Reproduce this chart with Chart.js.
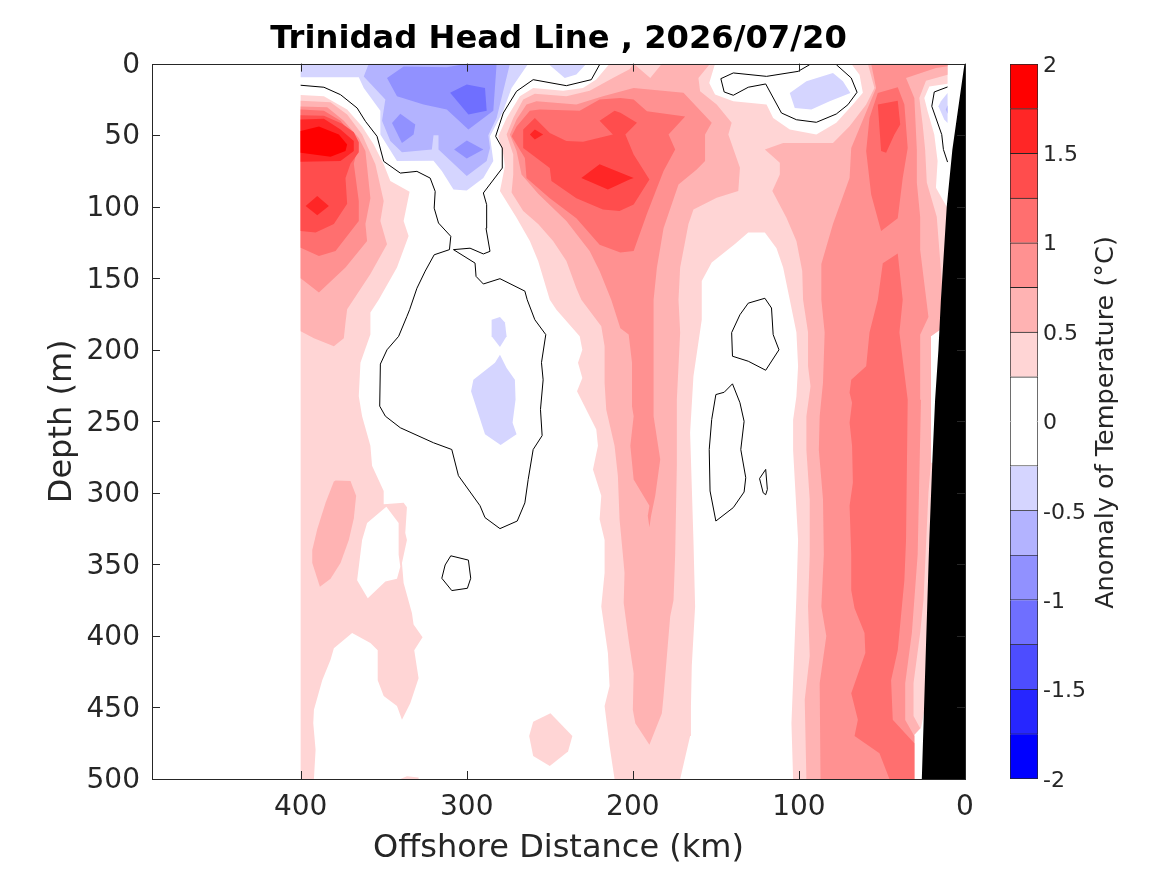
<!DOCTYPE html>
<html><head><meta charset="utf-8">
<style>html,body{margin:0;padding:0;background:#fff;overflow:hidden}canvas{position:absolute;top:0}</style>
<script src="https://cdn.jsdelivr.net/npm/chart.js@4"></script></head><body>
<canvas id="main" width="1000" height="875" style="left:0"></canvas>
<canvas id="bar" width="167" height="875" style="left:1000px"></canvas>
<script>
const titleText='Trinidad Head Line , 2026/07/20';
const barLabel='Anomaly of Temperature (°C)';
const distanceTicks=[400,300,200,100,0];
const bandEdges=[-2,-1.75,-1.5,-1.25,-1,-0.75,-0.5,-0.25,0,0.25,0.5,0.75,1,1.25,1.5,1.75,2];
const bandColors=['#0000ff','#2626ff','#4d4dff','#6f6fff','#9191ff','#b3b3ff','#d5d5ff','#ffffff','#ffffff','#ffd5d5','#ffb3b3','#ff9191','#ff6f6f','#ff4d4d','#ff2626','#ff0000'];
const barTicks=[-2,-1.5,-1,-0.5,0,0.5,1,1.5,2];

// contours as [offshore km, depth m]
const warm025=[
[[400,22],[386,22.8],[372,32],[363,44],[356,56.5],[350,70.4],[346,82],[334.4,89.5],[338,110],[335,120.4],[342,142.5],[353,165],[358,174],[358,189.4],[364,209],[365,232.4],[363,246.4],[358,267],[357,281],[350,298.7],[350,308],[338,307],[336,310],[337,328],[336,333],[339,349],[338,363],[333,384],[332,392],[326.6,401],[331.6,410],[329,429.5],[334,447],[339,458.6],[342,449],[350,442],[353.6,431],[353.6,410],[358,405],[369,398],[380,408.6],[382,416.7],[387,431],[392,451.6],[392.4,461],[391,479.5],[392,500],[400,500]],
[[214,0],[222,11],[230,17],[242,19],[260,17],[268,22.8],[276,38],[281,50.7],[278,63.5],[277,71.6],[280,89],[270,107.7],[262,124],[257,138],[250,165],[246,172],[232,190.6],[230.4,200],[233,209],[230.4,219.7],[233.6,229],[222,255.7],[221,267],[224,283.6],[219,302],[220,318.5],[217,333],[217,356],[219,379.5],[215,412],[214,435],[217,449],[214,477],[211,500],[171.5,500],[165.5,470],[165,449],[164.5,421],[162.5,379.5],[163.5,333],[165.5,258],[163.5,218.5],[158.5,179],[158.5,152],[152.5,139],[138.5,126],[130.5,118],[120.5,118],[113.5,129],[109.5,142.5],[105.5,165],[101.5,188],[100.5,211.5],[101.5,232.4],[103.5,249],[103.5,270],[100.5,333],[101.5,372.5],[104.5,461],[103.5,500],[30.5,500],[30.5,469],[26.5,464.4],[20,426],[15,300],[10,186],[8,100],[11,100],[17.5,86.7],[16.5,68],[18.5,49.5],[22.5,33.2],[24.5,24],[21.5,16],[10.5,14],[10.5,0]],
[[249.6,454],[236.4,470],[239,480.7],[250,491],[260,484],[262.4,470],[260,460]],
[[340,500],[336,498],[329,499],[329,500]]
];
const whiteHoles=[
[[348.4,309.7],[341,321],[341,343],[340,351.6],[342,360],[349,362],[359.6,373.7],[366,361],[363,333],[360,321]],
[[150.5,0],[154,13.5],[150.5,21.6],[139.5,26.3],[119.5,28.6],[115.5,38],[105.5,46],[89.5,49.5],[77.5,41.4],[67.5,28.6],[61.5,20.4],[63.5,7.7],[68.5,0]],
[[15,186],[20.5,190.6],[20.5,279],[15,279]]
];
const warm050=[
[[400,26],[382,27],[372,35.6],[363,49.5],[355,70.4],[350,96],[352,110],[348,126.3],[358,147],[372,171.6],[373,181],[374,192],[380,197.5],[392,192],[400,187]],
[[379,291.3],[370,291.7],[366.6,302],[368,318],[371,333],[376,349],[382,360],[388.4,365.6],[393,349],[393,340],[390,325.5],[385,307],[380,292]],
[[199.5,0],[202,4],[212,10],[226,19],[240,22.8],[259,21],[266,25],[272,38],[276,49.5],[272,63.5],[272,77.4],[273,90],[266,103],[257,112],[248,124],[240,138],[234,157],[231,165],[219,183.6],[217,197.6],[217,223],[216,242],[211,267],[209,288],[208,318.5],[206,343],[205,356],[205.5,377],[202.5,403],[199.5,426],[200,451.6],[198.5,461],[190,476],[182.5,454],[181.5,442],[177.5,386.5],[175.5,375],[174.5,343],[173.5,281],[173.5,235],[172.5,211.5],[171.5,188],[172.5,165],[171.5,142.5],[166.5,112],[163.5,102],[149.5,93.7],[136.5,89],[135.5,72.8],[142.5,49.5],[140.5,41.4],[149.5,28.6],[159.5,19.3],[160.5,10],[153.5,0],[182.5,0],[189.5,10]],
[[58.5,0],[54.5,17],[59.5,28.6],[69.5,43.7],[79.5,55.5],[109.5,55.5],[120.5,60],[111.5,69.3],[111.5,77.4],[116,89],[107.5,107.7],[101.5,124],[98,145],[97.5,165],[94.5,188],[94.5,211.5],[93,225.5],[95.5,246.4],[95.5,270],[93.5,304.5],[93.5,343],[94.5,379.5],[93.5,414],[96.5,444.6],[95.5,500],[30.5,500],[30.5,469],[27,464.6],[31,456],[31,433],[27,398],[25,375],[22,300],[20.5,279],[20.5,190.6],[15,186],[14,153],[15,137],[17,107],[23,83],[24,60],[25.5,42.6],[27.5,24],[23.5,12],[10.5,7.7],[10.5,0]]
];
const warm075=[
[[400,30],[384,30.5],[374,40],[365,52],[361,61],[358,94],[361,112],[360,124],[373,142.5],[389,160],[400,150]],
[[199.5,17],[218,22.8],[234,28.6],[258,26.3],[264,28.6],[270,39],[274,49.5],[270,61],[267,77.4],[257,91],[240,110],[226,131],[220,145],[213,165],[207.5,185],[202.5,189.4],[200.5,209],[200.5,239.4],[199.5,246.4],[201.5,267],[199.5,290.6],[190,309],[191,316],[190,324],[189,316],[186.5,302],[183.5,276.6],[187.5,246.4],[187.5,188],[187.5,165],[185.5,142.5],[181.5,115],[172.5,84.4],[161.5,74],[156.5,68],[156.5,49.5],[152.5,41.4],[169.5,20.4]],
[[56.5,0],[53.5,17],[58.5,31],[68.5,59],[69.5,80],[79.5,112],[86.5,140],[86.5,165],[84.5,188],[85.5,223],[87.5,246.4],[88,270],[85.5,304.5],[85,343],[86.5,379.5],[83.5,400],[87.5,433],[87,500],[30.5,500],[30.5,470],[36,458.7],[36,433],[32,398],[28.5,343],[26.5,235],[27,200],[27,189.5],[22,177],[27,130],[27,107],[29,83],[29,60],[30.5,24],[35.5,10],[17.5,3],[10.5,1.8],[10.5,0]]
];
const warm100=[
[[400,32],[386,33],[376,40],[368,52],[366,60],[368,70],[365,96],[365,110],[379,131],[389,134.4],[400,128.6]],
[[207.5,24],[220,25],[232,33],[256,32],[262,33],[270,44],[273,50.7],[265,66],[264,80],[250,94],[234,108],[220,126.5],[207.5,132],[199.5,131],[191.5,105],[181.5,75],[174.5,60],[178.5,49.5],[168.5,37],[191.5,33.2],[199.5,25]],
[[40.5,16.5],[52.5,20.5],[57.5,38],[59.5,61],[56.5,91.4],[50.5,117],[40.5,108],[37.5,80],[34.5,59],[36.5,28.6]],
[[40.5,132.7],[49.5,139.5],[52.5,165],[57.5,188],[59.5,211.5],[68.5,221],[69.5,230],[68,237],[69.5,251],[68,267],[67.5,293],[69.5,309],[68.5,343],[68.5,368],[66.5,380.7],[60.5,398],[60,412],[68.5,440],[64.5,458.6],[66.5,470],[51.5,482],[45.5,500],[30.5,500],[30.5,475],[43.5,458.6],[44.5,431],[40.5,410],[36.5,361],[35.5,333],[34.5,235],[37.5,207],[39.5,188],[37.5,165]]
];
const warm125=[
[[400,36],[386,36.5],[375,42],[368,48],[365,55],[365,62],[370,70],[373,80],[372,98],[380,112],[391,118],[400,117]],
[[266,46],[266,59],[250,73],[249,82],[234,94],[218,102],[208,103],[199.5,98.4],[190,81],[199.5,63.5],[204.5,49.5],[197.5,41.4],[207.5,34.4],[211,33],[220,40],[212,49.5],[230,54.6],[240,54],[250,48.4],[259,38]],
[[52.5,28.6],[40.5,26],[39,42.6],[42.5,49.5],[47.5,62.3],[50.5,61],[51.5,45]]
];
const warm150=[
[[400,39],[386,38.5],[376,46],[368,54],[368,61],[376,68],[400,68.6]],
[[390,92.5],[383,99.5],[390,106],[397,99.5]],
[[262,49.5],[259,46],[254,49.5],[259,53]],
[[231,80],[220,70.4],[199.5,80],[202,81],[215,88]]
];
const warm175=[
[[400,47],[389,44],[377,49.5],[372,56.5],[373,61],[382,65],[400,62.3]]
];
const cool025=[
[[400,0],[400,9.5],[365,9.5],[362,17],[352,33],[352,49.5],[342,68],[320,67.8],[315,75],[308,88],[300,88.6],[290,80],[284,68],[286,50.7],[278,33],[273,17],[263,0]],
[[251,0],[241,10],[234,7.6],[228,0]],
[[285,179],[280,177],[277,181],[276,190.6],[280,198],[285,190.6]],
[[280,203.4],[276,212.7],[271,221],[270.6,234.8],[272.4,251],[270,259],[279.6,266.6],[289,259],[297.4,229],[296,221],[283,209]],
[[105.5,20.5],[95.5,12.3],[79.5,6.5],[73.5,12.3],[69,20.5],[81.5,26.3],[92.5,32],[102.5,31]],
[[10.5,20.5],[14.5,26.3],[16,29.8],[12.5,39],[10.5,41.5]]
];
const cool050=[
[[359,0],[362,9],[349,25],[351,40],[346,54],[339,62],[321,60],[320,50],[317,50],[317,60],[300,78.6],[288,68],[286,59],[287,50],[282,38],[274,0]],
[[10.5,29],[11.5,32],[10.5,35]]
];
const cool075=[
[[338,2],[348,10],[342,22.8],[326,28.6],[312,32],[299,46],[284,33],[282,0],[300,0],[312,2.5]],
[[340,35],[331,42.5],[332,49.5],[339,55.5],[345,41.5]],
[[300,53.7],[290,60],[300,66.3],[307.6,60]]
];
const cool100=[
[[310,20.4],[300,14.6],[289,17],[288,33],[299,35.6]]
];
const seabed=[[0,0],[0.3,0],[7.6,60],[11,100],[14.5,165],[16,200],[18,235],[19.7,279],[21.5,333],[26,500],[0,500]];
const zeroContours=[
[[400,15.1],[386,16.5],[376,21.7],[366,31],[361,40.3],[354,50.8],[350,68.3],[340,76.5],[330,75.3],[322,80],[319,89.3],[319.6,101],[317,111.4],[309.6,120.7],[310.4,130],[319.6,133.6],[325,145],[330,157],[334.4,172],[336,176.6],[341,190.6],[348,200],[352,210],[352.4,239.4],[349,246.4],[340,254.5],[320,265],[309,269.7],[305,288],[292,309],[289,317.3],[280,325],[269.6,319.7],[265,307],[263,290.6],[260,269.7],[254.6,260],[255.6,241.7],[254,221],[255,209],[252.4,189.4],[259,179],[263.6,165],[265,159],[280,150.3],[290,154],[294.4,148.7],[295,139.4],[308,130],[298,129],[290,133],[286,131.2],[288.4,115],[288,98.6],[290,90.4],[278.6,73],[278.6,59],[282.6,50.8],[278,34.5],[270,19.3],[260,11.2],[240,15.4],[225,11.2],[220,0.7]],
[[309.6,344],[299,347],[297.6,359.7],[299.6,366.7],[309,368.3],[315,359.7],[313,350.4],[309.6,344]],
[[93.5,0.7],[100.5,5.4],[119.5,8.9],[139.5,6.5],[147,10.5],[145,19.8],[139.5,22.1],[130.5,16.5],[120,14.2],[110.5,34.5],[101.5,39.2],[89.5,41],[77.5,35.2],[70.5,28.7],[65,20],[68.5,10],[77.5,0.7]],
[[10.5,16.3],[18.5,19.8],[20,29.8],[14,49.6],[13,60],[10.5,68.8]],
[[120.5,164],[130.5,167.4],[135.5,175.5],[140.5,188],[140,204.5],[130.5,208],[120,214.3],[112,200],[115.5,189.4],[116.5,170.8],[120.5,164]],
[[140,223.8],[145,229.7],[150,231.3],[152.5,248.7],[154,269.7],[153.5,298.7],[150,319.7],[139.5,310.3],[133,299.4],[132,289.4],[135,269.7],[133,250],[135.5,237],[140,223.8]],
[[120,283.6],[123.7,290],[121.5,300],[120,301.3],[119,297.6],[120,283.6]]
];

const layers=[[warm025,'#ffd5d5'],[whiteHoles,'#ffffff'],[warm050,'#ffb3b3'],[warm075,'#ff9191'],[warm100,'#ff6f6f'],[warm125,'#ff4d4d'],[warm150,'#ff2626'],[warm175,'#ff0000'],[cool025,'#d5d5ff'],[cool050,'#b3b3ff'],[cool075,'#9191ff'],[cool100,'#6f6fff']];
const toPts=p=>p.map(a=>({x:a[0],y:a[1]}));
const datasets=[];
layers.forEach(([polys,col])=>polys.forEach(p=>datasets.push({data:toPts(p.concat([p[0]])),showLine:true,fill:'shape',backgroundColor:col,borderWidth:0,pointRadius:0,tension:0})));
zeroContours.forEach(p=>datasets.push({data:toPts(p),showLine:true,fill:false,borderColor:'#000',borderWidth:1,pointRadius:0,tension:0}));
datasets.push({data:toPts(seabed.concat([seabed[0]])),showLine:true,fill:'shape',backgroundColor:'#000',borderWidth:0,pointRadius:0,tension:0});
datasets.forEach((d,i)=>d.order=datasets.length-i);

const ink='#262626';
const fontFam='"DejaVu Sans"';
const nudgeLabels={id:'nudgeLabels',beforeDraw(c,args,opts){
  if(c.$nudged)return;c.$nudged=true;
  c.scales.y.getLabelItems().forEach(it=>{it.options.translation[1]+=opts.dy;});}};
const frame={id:'frame',afterDatasetsDraw(c){
  const {ctx,chartArea:a,scales:{x,y}}=c;ctx.save();ctx.strokeStyle=ink;ctx.lineWidth=1;
  ctx.strokeRect(Math.round(a.left)+.5,Math.round(a.top)+.5,Math.round(a.right-a.left),Math.round(a.bottom-a.top));
  ctx.beginPath();
  x.ticks.forEach(t=>{const p=Math.round(x.getPixelForValue(t.value))+.5;ctx.moveTo(p,a.top);ctx.lineTo(p,a.top+8);ctx.moveTo(p,a.bottom);ctx.lineTo(p,a.bottom-8);});
  y.ticks.forEach(t=>{const p=Math.round(y.getPixelForValue(t.value))+.5;ctx.moveTo(a.left,p);ctx.lineTo(a.left+8,p);ctx.moveTo(a.right,p);ctx.lineTo(a.right-8,p);});
  ctx.stroke();ctx.restore();}};
const sideLabel={id:'sideLabel',afterDraw(c){
  const {ctx,scales:{y}}=c;ctx.save();
  ctx.translate(106,(y.top+y.bottom)/2+1);ctx.rotate(-Math.PI/2);
  ctx.fillStyle=ink;ctx.font='25.5px '+fontFam;ctx.textAlign='center';ctx.textBaseline='middle';
  ctx.fillText(barLabel,0,0);ctx.restore();}};

new Chart(document.getElementById('main'),{type:'scatter',data:{datasets},plugins:[frame,nudgeLabels],options:{
  responsive:false,animation:false,events:[],
  layout:{padding:{left:0,right:35,top:0,bottom:0}},
  plugins:{legend:{display:false},tooltip:{enabled:false},nudgeLabels:{dy:2},
    title:{display:true,text:titleText,color:'#000',font:{family:fontFam,size:32.2,weight:'bold'},padding:{top:20,bottom:5},align:'center',fullSize:false}},
  scales:{
    x:{type:'linear',reverse:true,min:0,max:489.5,
      afterBuildTicks:s=>{s.ticks=distanceTicks.map(v=>({value:v}));},
      afterFit:s=>{s.height=96;},
      grid:{display:false,drawTicks:false},border:{display:false},
      ticks:{color:ink,font:{family:fontFam,size:28},padding:12,maxRotation:0,callback:v=>String(v)},
      title:{display:true,text:'Offshore Distance (km)',color:ink,font:{family:fontFam,size:32},padding:{top:4,bottom:7}}},
    y:{type:'linear',reverse:true,min:0,max:500,
      afterFit:s=>{s.width=152;},
      grid:{display:false,drawTicks:false},border:{display:false},
      ticks:{color:ink,font:{family:fontFam,size:28},stepSize:50,padding:12},
      title:{display:true,text:'Depth (m)',color:ink,font:{family:fontFam,size:32},padding:{top:43,bottom:6}}}
  }}});

const barSets=bandColors.map((col,i)=>({data:[[bandEdges[i],bandEdges[i+1]]],backgroundColor:col,borderColor:ink,borderWidth:1,barPercentage:1,categoryPercentage:1,grouped:false}));
new Chart(document.getElementById('bar'),{type:'bar',data:{labels:['T'],datasets:barSets},plugins:[nudgeLabels,sideLabel],options:{
  responsive:false,animation:false,events:[],
  layout:{padding:{left:10,right:0,top:64,bottom:96}},
  plugins:{legend:{display:false},tooltip:{enabled:false},nudgeLabels:{dy:2}},
  scales:{
    x:{display:false,stacked:false},
    y:{position:'right',min:-2,max:2,
      afterBuildTicks:s=>{s.ticks=barTicks.map(v=>({value:v}));},
      afterFit:s=>{s.width=129;},
      grid:{display:false,drawTicks:false},border:{display:false},
      ticks:{color:ink,font:{family:fontFam,size:22},padding:5,callback:v=>String(v)}}
  }}});
</script></body></html>
